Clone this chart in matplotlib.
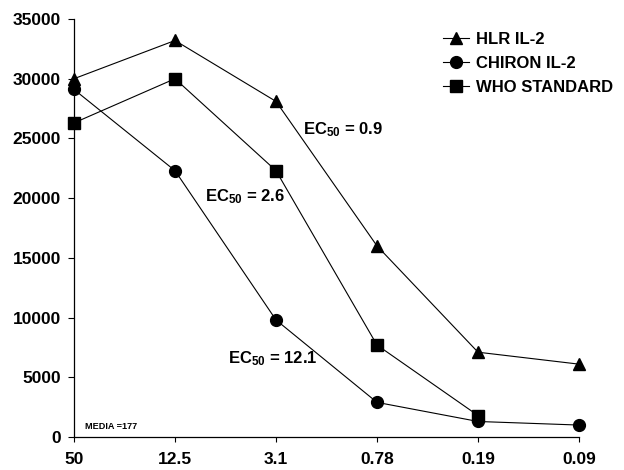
import matplotlib
matplotlib.use("Agg")
import matplotlib.pyplot as plt

plt.rcParams['font.family'] = ['Liberation Sans', 'DejaVu Sans']
plt.rcParams['mathtext.fontset'] = 'custom'
plt.rcParams['mathtext.rm'] = 'Liberation Sans:bold'
plt.rcParams['mathtext.it'] = 'Liberation Sans:bold'
plt.rcParams['mathtext.bf'] = 'Liberation Sans:bold'

categories = ['50', '12.5', '3.1', '0.78', '0.19', '0.09']
hlr = [30000, 33200, 28100, 16000, 7100, 6100]
chiron = [29100, 22300, 9800, 2900, 1300, 1000]
who = [26300, 30000, 22300, 7700, 1800]
yticks = [0, 5000, 10000, 15000, 20000, 25000, 30000, 35000]

fig = plt.figure(figsize=(6.24, 4.70), dpi=100)
ax = fig.add_axes([74 / 624, 33 / 470, 505 / 624, 418 / 470])

x = list(range(len(categories)))
ax.plot(x, hlr, color='black', lw=0.8, marker='^', ms=9, clip_on=False, label='HLR IL-2')
ax.plot(x, chiron, color='black', lw=0.8, marker='o', ms=8.5, clip_on=False, label='CHIRON IL-2')
ax.plot(x[:len(who)], who, color='black', lw=0.8, marker='s', ms=8.5, clip_on=False, label='WHO STANDARD')

ax.set_xlim(0, 5)
ax.set_ylim(0, 35000)
ax.set_xticks(x)
ax.set_xticklabels(categories)
ax.set_yticks(yticks)
ax.set_yticklabels([str(v) for v in yticks])
for s in ['top', 'right']:
    ax.spines[s].set_visible(False)
for s in ['left', 'bottom']:
    ax.spines[s].set_linewidth(0.9)
ax.tick_params(axis='both', direction='out', width=0.8, labelsize=12.5)
ax.tick_params(axis='x', length=3.6, pad=7)
ax.tick_params(axis='y', length=4.3, pad=5)
for lab in ax.get_xticklabels() + ax.get_yticklabels():
    lab.set_fontweight('bold')

leg = ax.legend(loc='upper left', bbox_to_anchor=(0.73, 0.97), frameon=False,
                handlelength=1.6, handletextpad=0.4, labelspacing=0.56,
                borderaxespad=0.0, borderpad=0.0, prop={'weight': 'bold', 'size': 12})

ax.text(2.27, 25700, r'EC$_{50}$ = 0.9', fontsize=12, fontweight='bold', ha='left', va='center')
ax.text(1.30, 20100, r'EC$_{50}$ = 2.6', fontsize=12, fontweight='bold', ha='left', va='center')
ax.text(1.52, 6600, r'EC$_{50}$ = 12.1', fontsize=12, fontweight='bold', ha='left', va='center')
ax.text(0.11, 850, 'MEDIA =177', fontsize=6.6, fontweight='bold', ha='left', va='center')

fig.savefig('out.png', dpi=100)
